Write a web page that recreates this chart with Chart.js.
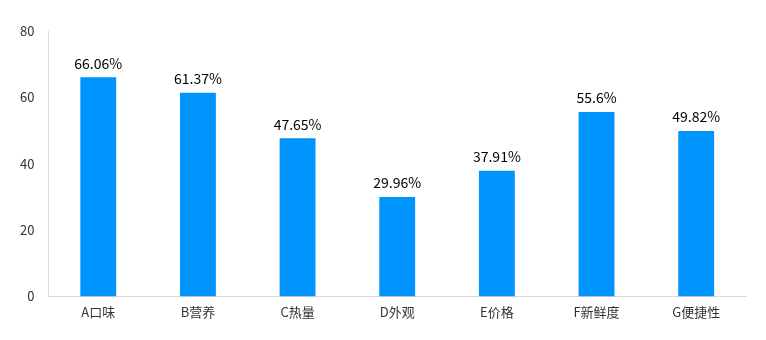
<!DOCTYPE html>
<html>
<head>
<meta charset="utf-8">
<script src="https://cdn.jsdelivr.net/npm/chart.js@4/dist/chart.umd.min.js"></script>
<style>
  html, body { margin: 0; padding: 0; background: #fff; }
  #wrap { width: 766px; height: 340px; }
</style>
</head>
<body>
<div id="wrap"><canvas id="chart"></canvas></div>
<script>
// chart data
const categories = ["A口味", "B营养", "C热量", "D外观", "E价格", "F新鲜度", "G便捷性"];
const values = [66.06, 61.37, 47.65, 29.96, 37.91, 55.6, 49.82];
const valueLabels = ["66.06%", "61.37%", "47.65%", "29.96%", "37.91%", "55.6%", "49.82%"];
const yTicks = [0, 20, 40, 60, 80];

const fontFamily = '"Noto Sans CJK SC", "Noto Sans", sans-serif';

// draws the percentage text above each bar
const barLabels = {
	id: 'barLabels',
	afterDatasetsDraw(chart) {
		const ctx = chart.ctx;
		const meta = chart.getDatasetMeta(0);
		ctx.save();
		ctx.font = '14px ' + fontFamily;
		ctx.fillStyle = '#000';
		ctx.textAlign = 'center';
		ctx.textBaseline = 'bottom';
		meta.data.forEach((bar, i) => {
			ctx.fillText(valueLabels[i], bar.x, bar.y - 7);
		});
		ctx.restore();
	}
};

new Chart(document.getElementById('chart'), {
	type: 'bar',
	data: {
		labels: categories,
		datasets: [{
			data: values,
			backgroundColor: '#0094ff',
			categoryPercentage: 0.36,
			barPercentage: 1
		}]
	},
	options: {
		responsive: true,
		maintainAspectRatio: false,
		animation: false,
		layout: { padding: { top: 31, right: 20, bottom: 12, left: 6 } },
		plugins: { legend: { display: false }, tooltip: { enabled: false } },
		scales: {
			x: {
				grid: { display: false, drawTicks: false },
				border: { color: '#d9d9d9', width: 1 },
				ticks: { color: '#333', padding: 8, font: { size: 13, family: fontFamily } }
			},
			y: {
				min: 0,
				max: 80,
				afterBuildTicks(axis) { axis.ticks = yTicks.map(v => ({ value: v })); },
				grid: { display: false, drawTicks: false },
				border: { color: '#d9d9d9', width: 1 },
				ticks: { color: '#333', padding: 14, font: { size: 13, family: fontFamily } }
			}
		}
	},
	plugins: [barLabels]
});
</script>
</body>
</html>
